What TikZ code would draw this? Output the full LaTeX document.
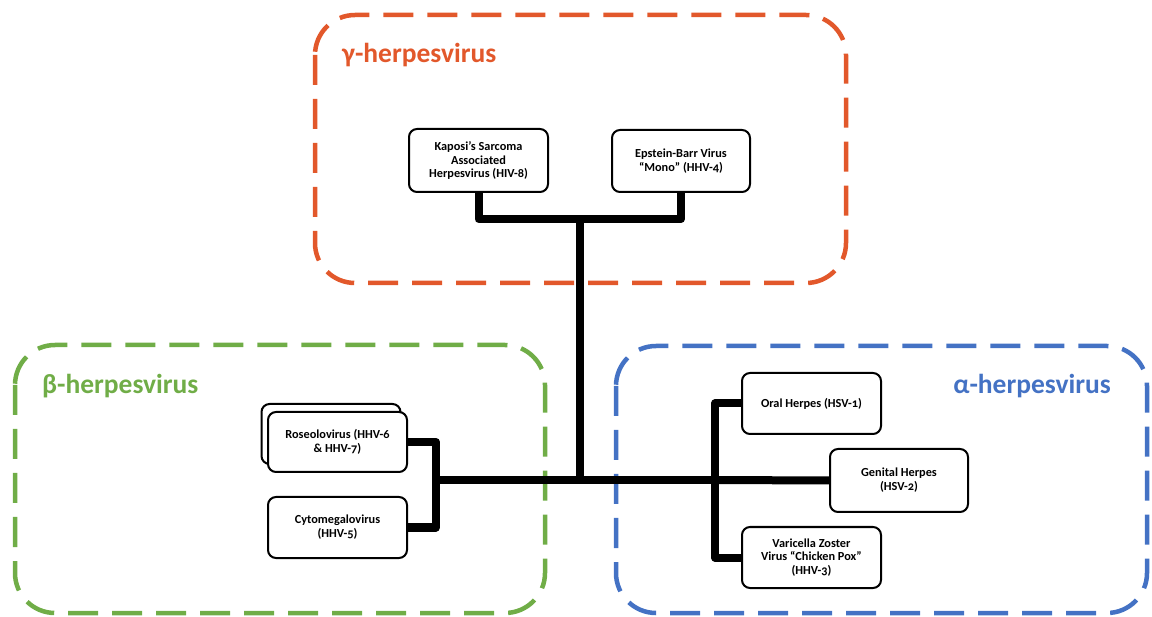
\documentclass[tikz,border=0pt]{standalone}
\usepackage{fontspec}
\setmainfont{Carlito}[Numbers=OldStyle]
\definecolor{gorange}{HTML}{E2582B}
\definecolor{ggreen}{HTML}{70AD47}
\definecolor{gblue}{HTML}{4472C4}
\tikzset{
  group/.style={line width=4.5pt, dash pattern=on 30pt off 14pt, rounded corners=40pt},
  vbox/.style={draw=black, fill=white, line width=2pt, rounded corners=8pt, align=center,
    font=\bfseries\fontsize{12.3}{13.8}\selectfont, inner sep=2pt},
  link/.style={line width=8pt, line join=round},
  gtitle/.style={font=\bfseries\fontsize{27.5}{32}\selectfont, inner sep=0pt}
}
\begin{document}
\begin{tikzpicture}[x=1pt, y=-1pt]
\useasboundingbox (0,0) rectangle (1152,617);
% group frames
\draw[group, gorange] (315,15) rectangle (846,283);
\draw[group, ggreen] (15,345) rectangle (545,613);
\draw[group, gblue] (616,346) rectangle (1147,613);
% titles
\node[gtitle, text=gorange, anchor=base west] (tg) at (342,63) {γ-herpesvirus};
\node[gtitle, text=ggreen, anchor=base west] (tb) at (42,394) {β-herpesvirus};
\node[gtitle, text=gblue, anchor=base east] (ta) at (1111,394) {α-herpesvirus};
% junction coordinates
\coordinate (gj) at (580,219);
\coordinate (hub) at (580,480);
\coordinate (bj) at (436,480);
\coordinate (aj) at (715,480);
% connectors
\draw[link] (gj) -- (hub);
\draw[link] (bj) -- (aj);
% boxes
\node[vbox, minimum width=139pt, minimum height=63pt] (kaposi) at (478.5,160.5)
  {Kaposi’s Sarcoma\\Associated\\Herpesvirus (HIV-8)};
\node[vbox, minimum width=138pt, minimum height=62pt] (epstein) at (681,161)
  {Epstein-Barr Virus\\“Mono” (HHV-4)};
\node[vbox, minimum width=139pt, minimum height=60pt] (roseoback) at (331,434) {};
\node[vbox, minimum width=139pt, minimum height=60pt] (roseo) at (337.5,442)
  {Roseolovirus (HHV-6\\\& HHV-7)};
\node[vbox, minimum width=139pt, minimum height=61pt] (cyto) at (337.5,527.5)
  {Cytomegalovirus\\(HHV-5)};
\node[vbox, minimum width=139pt, minimum height=61pt] (oral) at (811.5,403.5)
  {Oral Herpes (HSV-1)};
\node[vbox, minimum width=138pt, minimum height=63pt] (genital) at (899,480.5)
  {Genital Herpes\\(HSV-2)};
\node[vbox, minimum width=139pt, minimum height=61pt] (varicella) at (811.5,557.5)
  {Varicella Zoster\\Virus “Chicken Pox”\\(HHV-3)};
% branch connectors
\draw[link] (kaposi.south) |- (gj) -| (epstein.south);
\draw[link] (roseo.east) -| (bj) |- (cyto.east);
\draw[link] (oral.west) -| (aj) |- (varicella.west);
\draw[link] (aj) -- (genital.west);
\end{tikzpicture}
\end{document}
